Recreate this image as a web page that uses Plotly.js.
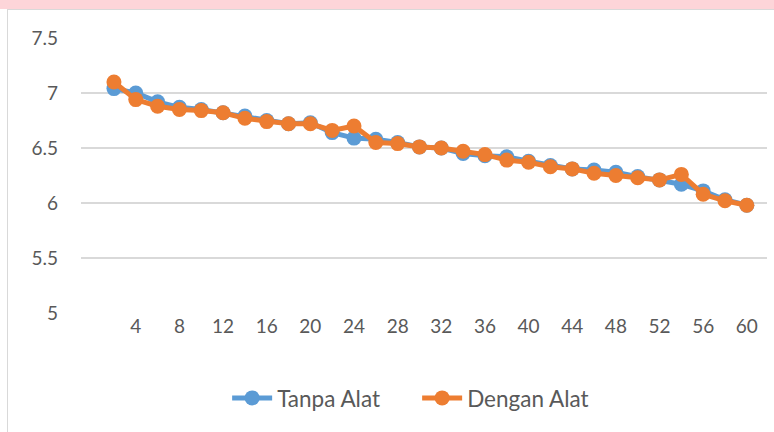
<!DOCTYPE html>
<html>
<head>
<meta charset="utf-8">
<script src="https://cdn.plot.ly/plotly-3.0.1.min.js"></script>
<style>
  html, body { margin: 0; padding: 0; background: #ffffff; }
  #wrap { position: relative; width: 774px; height: 432px; overflow: hidden; }
  #band { position: absolute; left: 0; top: 0; width: 774px; height: 9px; background: #FDD5D9; }
  #frame { position: absolute; left: 7px; top: 9px; width: 780px; height: 440px; border-left: 1px solid #D9D9D9; border-top: 1px solid #D9D9D9; }
  #chart { position: absolute; left: 0; top: 0; width: 774px; height: 432px; }
</style>
</head>
<body>
<div id="wrap">
  <div id="band"></div>
  <div id="frame"></div>
  <div id="chart"></div>
</div>
<script>
const xValues = [2,4,6,8,10,12,14,16,18,20,22,24,26,28,30,32,34,36,38,40,42,44,46,48,50,52,54,56,58,60];
const tanpaAlat = [7.04,7.00,6.92,6.87,6.85,6.82,6.79,6.75,6.72,6.73,6.64,6.59,6.58,6.55,6.51,6.50,6.45,6.43,6.42,6.38,6.34,6.31,6.30,6.28,6.24,6.21,6.17,6.11,6.03,5.98];
const denganAlat = [7.10,6.94,6.88,6.85,6.84,6.82,6.77,6.74,6.72,6.72,6.66,6.70,6.55,6.54,6.51,6.50,6.47,6.44,6.39,6.37,6.33,6.31,6.27,6.25,6.23,6.21,6.26,6.08,6.02,5.98];
const tickValues = [4,8,12,16,20,24,28,32,36,40,44,48,52,56,60];
const yTicks = [5,5.5,6,6.5,7,7.5];

const font = 'Lato, "Open Sans", sans-serif';

const traces = [
  {
    x: xValues, y: tanpaAlat, name: 'Tanpa Alat', type: 'scatter', mode: 'lines+markers',
    line: { color: '#5B9BD5', width: 5 },
    marker: { color: '#5B9BD5', size: 15 }
  },
  {
    x: xValues, y: denganAlat, name: 'Dengan Alat', type: 'scatter', mode: 'lines+markers',
    line: { color: '#ED7D31', width: 5 },
    marker: { color: '#ED7D31', size: 15 }
  }
];

const layout = {
  width: 774, height: 432,
  paper_bgcolor: 'rgba(0,0,0,0)',
  plot_bgcolor: 'rgba(0,0,0,0)',
  margin: { l: 81, r: 7, t: 38, b: 119 },
  showlegend: true,
  legend: {
    orientation: 'h', x: 0.49, xanchor: 'center', y: -0.31, yanchor: 'middle',
    font: { family: font, size: 22.5, color: '#595959' },
    itemwidth: 40, entrywidth: 135, entrywidthmode: 'pixels'
  },
  xaxis: {
    range: [-1.02, 61.85], tickmode: 'array', tickvals: tickValues, ticktext: tickValues.map(String),
    showgrid: false, zeroline: false, showline: false, ticks: '',
    tickfont: { family: font, size: 19, color: '#595959' }
  },
  yaxis: {
    range: [5, 7.5], tickmode: 'array', tickvals: yTicks, ticktext: ['5','5.5','6','6.5','7','7.5'],
    showgrid: true, gridcolor: '#D9D9D9', gridwidth: 1.5, zeroline: false, showline: false, ticks: '',
    ticklen: 0, ticklabelstandoff: 22,
    tickfont: { family: font, size: 19, color: '#595959' }
  }
};

Plotly.newPlot('chart', traces, layout, { displayModeBar: false, staticPlot: true });
</script>
</body>
</html>
